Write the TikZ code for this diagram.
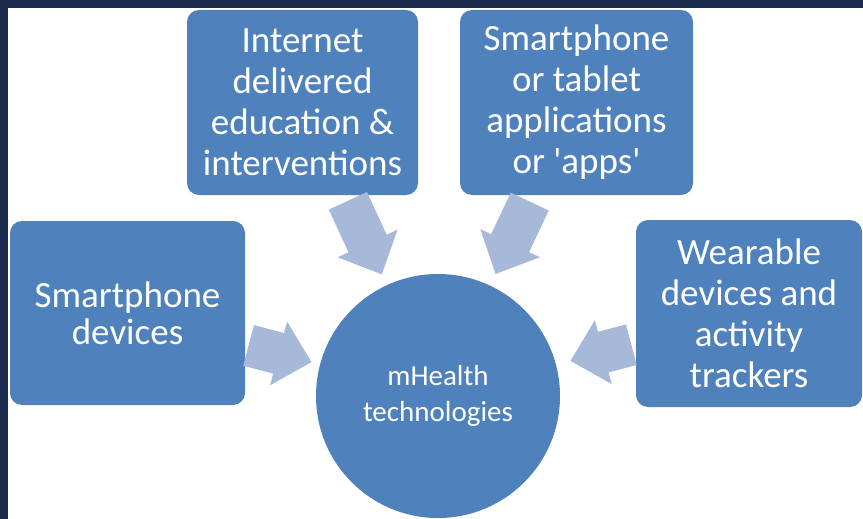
\documentclass[tikz,border=0pt]{standalone}
\usepackage{fontspec}
\setmainfont{Carlito}[Ligatures=TeXOff]
\usetikzlibrary{calc}
\definecolor{navy}{RGB}{28,44,78}
\definecolor{boxblue}{RGB}{79,129,189}
\definecolor{arrowblue}{RGB}{167,185,217}
\newcommand\blockarr[3]{% #1 prefix, #2 tail, #3 tip
  \coordinate (#1t) at (#2);
  \coordinate (#1h) at (#3);
  \coordinate (#1s) at ($(#1h)!34pt!(#1t)$);
  \fill[arrowfill] ($(#1t)!21pt!90:(#1h)$) -- ($(#1s)!21pt!90:(#1h)$) -- ($(#1s)!33pt!90:(#1h)$) -- (#1h)
    -- ($(#1s)!33pt!-90:(#1h)$) -- ($(#1s)!21pt!-90:(#1h)$) -- ($(#1t)!21pt!-90:(#1h)$) -- cycle;}
\begin{document}
\begin{tikzpicture}[x=1pt,y=-1pt,
  box/.style={fill=boxblue, rounded corners=12pt, text=white, align=center, inner sep=0pt,
    font=\fontsize{37}{41}\selectfont},
  hub/.style={circle, fill=boxblue, text=white, align=center, inner sep=0pt, minimum size=244pt,
    font=\fontsize{29}{36}\selectfont},
  arrowfill/.style={fill=arrowblue}]
\useasboundingbox (0,0) rectangle (863,519);
\fill[white] (0,0) rectangle (863,519);
\fill[navy] (0,0) rectangle (863,8);
\fill[navy] (0,0) rectangle (8,519);

\node[box, minimum width=231pt, minimum height=185pt] (tl) at (302.5,102.5) {Internet\\delivered\\education \&\\interventions};
\node[box, minimum width=233pt, minimum height=185pt] (tr) at (576.5,102.5) {Smartphone\\or tablet\\applications\\or 'apps'};
\node[box, minimum width=235pt, minimum height=184pt, font=\fontsize{37}{37}\selectfont] (l) at (127.5,313) {Smartphone\\devices};
\node[box, minimum width=226pt, minimum height=187pt] (r) at (749,313.5) {Wearable\\devices and\\activity\\trackers};
\node[hub] (c) at (438,396) {mHealth\\technologies};

\blockarr{a1}{$(c.center)!215pt!(tl.center)$}{$(c.center)!134pt!(tl.center)$}
\blockarr{a2}{$(c.center)!215pt!(tr.center)$}{$(c.center)!135pt!(tr.center)$}
\blockarr{a3}{$(c.center)!196pt!(l.center)$}{$(c.center)!131pt!(l.center)$}
\blockarr{a4}{$(c.center)!200pt!(r.center)$}{$(c.center)!137pt!(r.center)$}
\end{tikzpicture}
\end{document}
